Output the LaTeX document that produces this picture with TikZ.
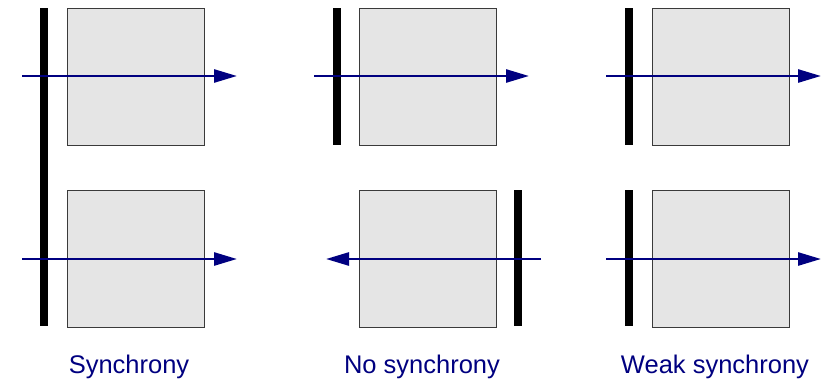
\documentclass[tikz,border=0pt]{standalone}
\usepackage{fontspec}
\setmainfont{Liberation Sans}
\usetikzlibrary{arrows.meta}
\definecolor{navy}{HTML}{000080}
\definecolor{boxfill}{HTML}{E5E5E5}
\definecolor{boxline}{HTML}{3A3A3A}
\tikzset{block/.style={draw=boxline,fill=boxfill,line width=1pt,
    minimum width=137pt,minimum height=137pt,inner sep=0,outer sep=0},
  barrier/.style={fill=black,minimum width=8pt,inner sep=0,outer sep=0},
  flow/.style={navy,line width=2.6pt,-{Triangle[length=23pt,width=13pt]}},
  caption/.style={text=navy,font=\fontsize{25.5}{30}\selectfont,inner sep=0,anchor=base}}
\begin{document}
\begin{tikzpicture}[x=1pt,y=-1pt]
\useasboundingbox (0,0) rectangle (829,380);
% three panels: blocks, barriers, flows across them
\node[block] (sa) at (135.5,76.5) {};
\node[block] (sb) at (135.5,258.5) {};
\node[block] (na) at (427.5,76.5) {};
\node[block] (nb) at (427.5,258.5) {};
\node[block] (wa) at (720.5,76.5) {};
\node[block] (wb) at (720.5,258.5) {};
\node[barrier,minimum height=318pt] (sbar) at (44,167) {};
\node[barrier,minimum height=137pt] (nbara) at (337,76.5) {};
\node[barrier,minimum height=136pt] (nbarb) at (518,258) {};
\node[barrier,minimum height=137pt] (wbara) at (629,76.5) {};
\node[barrier,minimum height=136pt] (wbarb) at (629,258) {};
\coordinate (s1) at (22,76);   \coordinate (s2) at (237,76);
\coordinate (s3) at (22,259);  \coordinate (s4) at (237,259);
\coordinate (n1) at (314,76);  \coordinate (n2) at (529,76);
\coordinate (n3) at (541,259); \coordinate (n4) at (326,259);
\coordinate (w1) at (606,76);  \coordinate (w2) at (821,76);
\coordinate (w3) at (606,259); \coordinate (w4) at (821,259);
\draw[flow] (s1) -- (s2);
\draw[flow] (s3) -- (s4);
\draw[flow] (n1) -- (n2);
\draw[flow] (n3) -- (n4);
\draw[flow] (w1) -- (w2);
\draw[flow] (w3) -- (w4);
\node[caption] (ls) at (129,373) {Synchrony};
\node[caption] (ln) at (422,373) {No synchrony};
\node[caption] (lw) at (715,373) {Weak synchrony};
\end{tikzpicture}
\end{document}
